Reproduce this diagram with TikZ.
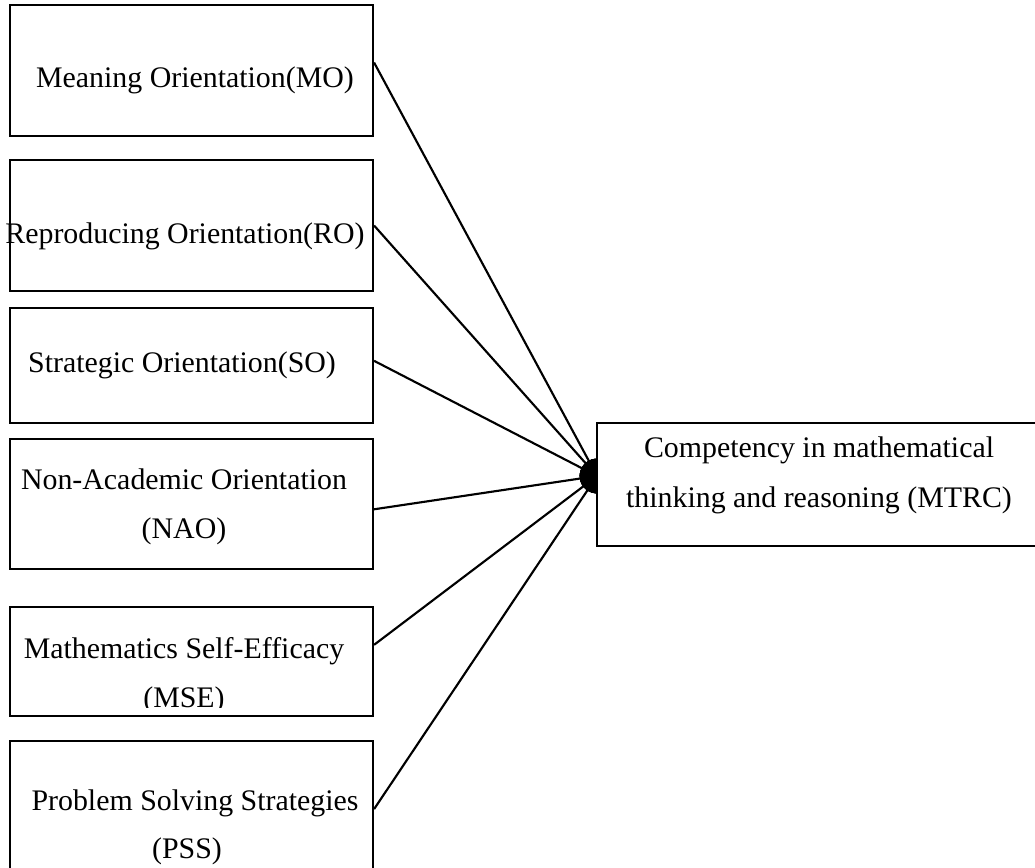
\documentclass[tikz,border=0pt]{standalone}
\usepackage{fontspec}
\setmainfont{Liberation Serif}
\usetikzlibrary{arrows.meta,calc}
\newdimen\pxu
\pxu=0.375pt
\begin{document}
\begin{tikzpicture}[x=0.375pt,y=-0.375pt,
  box/.style={draw,fill=white,line width=0.8pt,inner sep=0pt,minimum width=363\pxu},
  lbl/.style={anchor=base,inner sep=0pt,font=\fontsize{11.2}{13}\selectfont},
  link/.style={line width=0.8pt,-{Circle[length=13pt]},shorten >=-6.5pt}]
\clip (0,0) rectangle (1035,867);

% predictor boxes
\node[box,minimum height=131\pxu] (mo)  at (191.5,70.5) {};
\node[box,minimum height=131\pxu] (ro)  at (191.5,225.5) {};
\node[box,minimum height=115\pxu] (so)  at (191.5,365.5) {};
\node[box,minimum height=130\pxu] (nao) at (191.5,504) {};
\node[box,minimum height=109\pxu] (mse) at (191.5,661.5) {};
\node[box,minimum height=139\pxu] (pss) at (191.5,810.5) {};

% paths into the outcome, ending in a round blob at its left edge
\coordinate (hub) at (597,476);
\draw[link] ($(mo.north east)!0.44!(mo.south east)$) -- (hub);
\draw[link] ($(ro.north east)!0.50!(ro.south east)$) -- (hub);
\draw[link] ($(so.north east)!0.46!(so.south east)$) -- (hub);
\draw[link] ($(nao.north east)!0.54!(nao.south east)$) -- (hub);
\draw[link] ($(mse.north east)!0.35!(mse.south east)$) -- (hub);
\draw[link] ($(pss.north east)!0.49!(pss.south east)$) -- (hub);

% outcome box, drawn over the right half of the blob
\node[box,minimum width=448\pxu,minimum height=123\pxu] (mtrc) at (821,484.5) {};

% labels
\node[lbl] (tmo)  at (195,87)  {Meaning Orientation(MO)};
\node[lbl] (tro)  at (185,243) {Reproducing Orientation(RO)};
\node[lbl] (tso)  at (182,372) {Strategic Orientation(SO)};
\node[lbl] (tnao1) at (184,489) {Non-Academic Orientation};
\node[lbl] (tnao2) at (184,538) {(NAO)};
\node[lbl] (tmse1) at (184,658) {Mathematics Self-Efficacy};
\begin{scope}
  \clip (0,600) rectangle (400,707);
  \node[lbl] (tmse2) at (184,707) {(MSE)};
\end{scope}
\node[lbl] (tpss1) at (195,810) {Problem Solving Strategies};
\node[lbl] (tpss2) at (187,858) {(PSS)};
\node[lbl] (tm1) at (819,457) {Competency in mathematical};
\node[lbl] (tm2) at (819,507) {thinking and reasoning (MTRC)};
\end{tikzpicture}
\end{document}
